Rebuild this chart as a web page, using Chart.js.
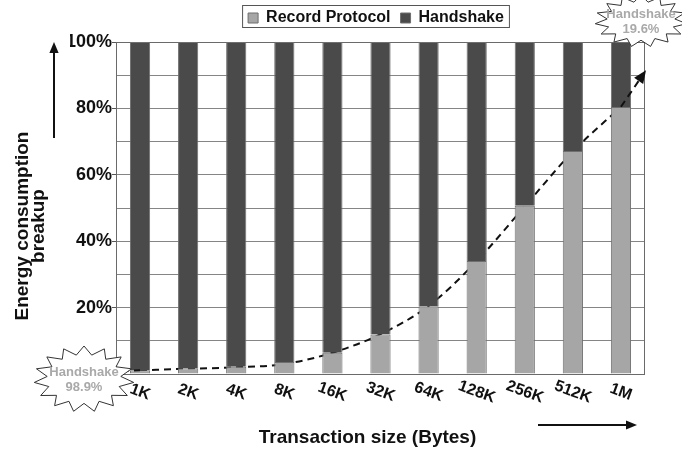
<!DOCTYPE html>
<html>
<head>
<meta charset="utf-8">
<script src="https://cdn.jsdelivr.net/npm/chart.js@4"></script>
<style>
  body { margin: 0; background: #fff; }
  #wrap { width: 682px; height: 453px; }
</style>
</head>
<body>
<div id="wrap"><canvas id="energyChart"></canvas></div>
<script>
const sizes = ['1K', '2K', '4K', '8K', '16K', '32K', '64K', '128K', '256K', '512K', '1M'];
const recordProtocol = [1.1, 1.7, 2.2, 3.6, 6.4, 11.9, 20.4, 34.0, 50.7, 67.2, 80.4];
const handshake = [98.9, 98.3, 97.8, 96.4, 93.6, 88.1, 79.6, 66.0, 49.3, 32.8, 19.6];
// dashed trend line through the bars, plus where it starts / ends outside them
const trendLine = [1.1, 1.6, 2.0, 3.0, 6.4, 12.0, 20.5, 34.0, 50.5, 67.0, 80.5];
const trendStart = 1.0;
const trendEnd = 91.5;
const yLabelled = [20, 40, 60, 80, 100];

const FONT = "'Liberation Sans', Arial, Helvetica, sans-serif";

function starburst(ctx, cx, cy, rx, ry, lines) {
  const n = 15;
  ctx.save();
  ctx.beginPath();
  for (let i = 0; i < n * 2; i++) {
    const a = i * Math.PI / n - Math.PI / 2;
    const r = i % 2 === 0 ? 1 : 0.74;
    const px = cx + Math.cos(a) * rx * r, py = cy + Math.sin(a) * ry * r;
    if (i === 0) ctx.moveTo(px, py); else ctx.lineTo(px, py);
  }
  ctx.closePath();
  ctx.fillStyle = '#fff';
  ctx.fill();
  ctx.strokeStyle = '#333';
  ctx.lineWidth = 1;
  ctx.stroke();
  ctx.fillStyle = '#a9a9a9';
  ctx.font = 'bold 13px ' + FONT;
  ctx.textAlign = 'center';
  ctx.textBaseline = 'middle';
  ctx.fillText(lines[0], cx, cy - 7);
  ctx.fillText(lines[1], cx, cy + 8);
  ctx.restore();
}

function arrowHead(ctx, x, y, a, len) {
  const w = len * 0.42;
  ctx.beginPath();
  ctx.moveTo(x, y);
  ctx.lineTo(x - len * Math.cos(a) + w * Math.sin(a), y - len * Math.sin(a) - w * Math.cos(a));
  ctx.lineTo(x - len * Math.cos(a) - w * Math.sin(a), y - len * Math.sin(a) + w * Math.cos(a));
  ctx.closePath();
  ctx.fill();
}

function arrow(ctx, x1, y1, x2, y2, len) {
  const a = Math.atan2(y2 - y1, x2 - x1);
  ctx.beginPath();
  ctx.moveTo(x1, y1);
  ctx.lineTo(x2 - Math.cos(a) * len * 0.8, y2 - Math.sin(a) * len * 0.8);
  ctx.stroke();
  arrowHead(ctx, x2, y2, a, len);
}

// push the plot down a little below the legend
const legendMargin = {
  id: 'legendMargin',
  beforeInit(chart) {
    const fit = chart.legend.fit;
    chart.legend.fit = function () {
      fit.bind(chart.legend)();
      this.height += 6;
    };
  }
};

const decor = {
  id: 'decor',
  beforeDatasetsDraw(chart) {
    const { ctx, chartArea: a } = chart;
    ctx.save();
    ctx.strokeStyle = '#6a6a6a';
    ctx.lineWidth = 1;
    ctx.strokeRect(a.left + 0.5, a.top + 0.5, a.right - a.left - 1, a.bottom - a.top);
    ctx.restore();
  },
  afterDatasetsDraw(chart) {
    const { ctx } = chart;
    const x = chart.scales.x, y = chart.scales.y;
    const pts = chart.getDatasetMeta(2).data;
    const first = pts[0], last = pts[pts.length - 1];

    // lead-in and lead-out of the dashed line, arrow at the end
    const sx = x.left + 6, sy = y.getPixelForValue(trendStart);
    const ex = x.right + 1, ey = y.getPixelForValue(trendEnd);
    const ang = Math.atan2(ey - last.y, ex - last.x);
    ctx.save();
    ctx.strokeStyle = '#111';
    ctx.fillStyle = '#111';
    ctx.lineWidth = 2;
    ctx.setLineDash([7, 5]);
    ctx.beginPath();
    ctx.moveTo(sx, sy);
    ctx.lineTo(first.x, first.y);
    ctx.moveTo(last.x, last.y);
    ctx.lineTo(ex - Math.cos(ang) * 9, ey - Math.sin(ang) * 9);
    ctx.stroke();
    ctx.setLineDash([]);
    arrowHead(ctx, ex, ey, ang, 13);
    ctx.restore();

    starburst(ctx, x.left - 32, y.getPixelForValue(0) + 5, 50, 33, ['Handshake', handshake[0] + '%']);
    starburst(ctx, x.right - 4, y.top - 21, 46, 26, ['Handshake', handshake[handshake.length - 1] + '%']);
  },
  afterDraw(chart) {
    const { ctx } = chart;
    const x = chart.scales.x, y = chart.scales.y;
    ctx.save();
    ctx.fillStyle = '#111';
    ctx.strokeStyle = '#111';

    // category labels, tilted
    ctx.font = 'bold 16px ' + FONT;
    ctx.textAlign = 'center';
    ctx.textBaseline = 'middle';
    sizes.forEach((s, i) => {
      ctx.save();
      ctx.translate(x.getPixelForValue(i), y.bottom + 18);
      ctx.rotate(20 * Math.PI / 180);
      ctx.fillText(s, 0, 0);
      ctx.restore();
    });

    // axis titles
    ctx.font = 'bold 19px ' + FONT;
    ctx.fillText('Transaction size (Bytes)', (x.left + x.right) / 2 - 13, y.bottom + 64);
    const cy = (y.top + y.bottom) / 2 + 18;
    ctx.save();
    ctx.translate(23, cy);
    ctx.rotate(-Math.PI / 2);
    ctx.fillText('Energy consumption', 0, 0);
    ctx.fillText('breakup', 0, 16);
    ctx.restore();

    // direction arrows
    ctx.lineWidth = 2;
    arrow(ctx, 538, y.bottom + 51, x.right - 8, y.bottom + 51, 11);
    arrow(ctx, 54, 138, 54, y.top, 11);

    // frame round the legend
    const hb = chart.legend.legendHitBoxes;
    if (hb && hb.length) {
      const l = hb[0].left - 6;
      const r = hb[hb.length - 1].left + hb[hb.length - 1].width + 5;
      const t = hb[0].top - 5;
      const b = hb[0].top + hb[0].height + 1;
      ctx.lineWidth = 1;
      ctx.strokeStyle = '#555';
      ctx.strokeRect(l + 0.5, t + 0.5, r - l, b - t);
    }
    ctx.restore();
  }
};

const ctx = document.getElementById('energyChart').getContext('2d');
const chart = new Chart(ctx, {
  type: 'bar',
  data: {
    labels: sizes,
    datasets: [
      {
        label: 'Record Protocol',
        data: recordProtocol,
        backgroundColor: '#a6a6a6',
        borderColor: '#6f6f6f',
        borderWidth: 1,
        grouped: false,
        barPercentage: 0.42,
        categoryPercentage: 1
      },
      {
        label: 'Handshake',
        data: handshake,
        backgroundColor: '#4a4a4a',
        borderColor: '#6f6f6f',
        borderWidth: 1,
        grouped: false,
        barPercentage: 0.42,
        categoryPercentage: 1
      },
      {
        type: 'line',
        label: 'trend',
        data: trendLine,
        stack: 'trend',
        borderColor: '#111',
        borderWidth: 2,
        borderDash: [7, 5],
        pointRadius: 0,
        cubicInterpolationMode: 'monotone',
        fill: false,
        clip: false
      }
    ]
  },
  options: {
    responsive: true,
    maintainAspectRatio: false,
    animation: false,
    layout: { padding: { left: 70, right: 0, top: 0, bottom: 0 } },
    scales: {
      x: {
        stacked: true,
        afterFit: s => { s.height = 79; },
        grid: { display: false },
        border: { display: false },
        ticks: { display: false }
      },
      y: {
        stacked: true,
        min: 0,
        max: 100,
        afterFit: s => { s.width = 46; },
        ticks: {
          stepSize: 10,
          padding: 0,
          color: '#111',
          font: { size: 18, weight: 'bold', family: FONT },
          callback: v => yLabelled.includes(v) ? v + '%' : ''
        },
        grid: {
          color: '#858585',
          lineWidth: 1,
          tickLength: 4,
          tickColor: c => (c.tick && yLabelled.includes(c.tick.value)) ? '#555' : 'rgba(0,0,0,0)'
        },
        border: { color: '#6a6a6a' }
      },
      y2: {
        position: 'right',
        afterFit: s => { s.width = 37; },
        grid: { display: false },
        border: { display: false },
        ticks: { display: false }
      }
    },
    plugins: {
      legend: {
        position: 'top',
        labels: {
          boxWidth: 10,
          boxHeight: 10,
          padding: 10,
          color: '#111',
          font: { size: 16, weight: 'bold', family: FONT },
          filter: item => item.datasetIndex < 2
        }
      },
      tooltip: { enabled: false }
    }
  },
  plugins: [legendMargin, decor]
});
</script>
</body>
</html>
